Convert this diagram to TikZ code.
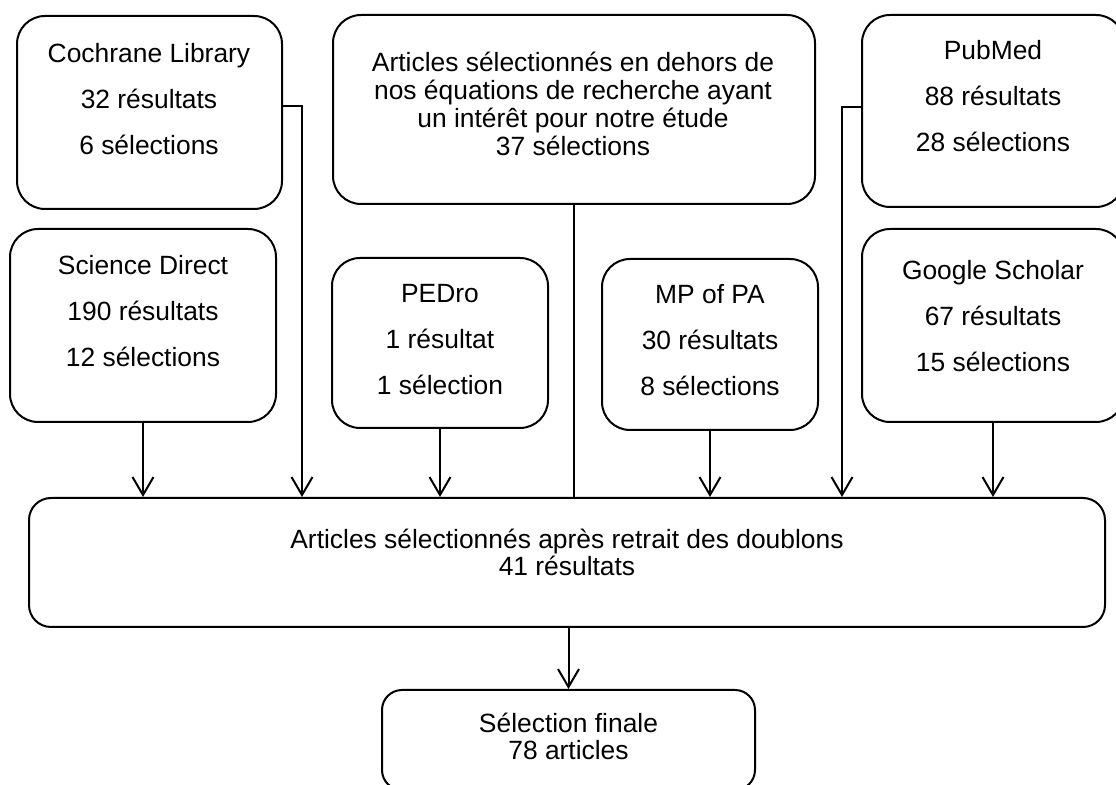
\documentclass[tikz,border=0pt]{standalone}
\usepackage{fontspec}
\setmainfont{Liberation Sans}
\usetikzlibrary{arrows.meta}
\begin{document}
\begin{tikzpicture}[x=0.5pt,y=-0.5pt,line width=1pt,
        box/.style={draw,rounded corners=14pt,inner sep=0pt},
        src/.style={font=\fontsize{13.2}{23}\selectfont,align=center,inner sep=0pt},
        txt/.style={font=\fontsize{13.2}{13.9}\selectfont,align=center,inner sep=0pt},
        arr/.style={-{Straight Barb[length=9pt,width=10.5pt]}}]
        \useasboundingbox (0,0) rectangle (1116,785);
        \clip (0,0) rectangle (1116,785);
        %% Boxes
        \node[box,minimum width=132.5pt,minimum height=96.5pt] (cochrane) at (149.5,112.5) {};
        \node[box,minimum width=241pt,minimum height=94.5pt] (extra) at (574,109.5) {};
        \node[box,minimum width=131pt,minimum height=96pt] (pubmed) at (993,111) {};
        \node[box,minimum width=133pt,minimum height=96.5pt] (sd) at (143,325.5) {};
        \node[box,minimum width=108pt,minimum height=85pt] (pedro) at (440,343) {};
        \node[box,minimum width=108pt,minimum height=85.5pt] (mppa) at (710,344.5) {};
        \node[box,minimum width=131pt,minimum height=96.5pt] (gs) at (993,325.5) {};
        \node[box,rounded corners=11pt,minimum width=538pt,minimum height=64.5pt] (big) at (567,562.5) {};
        \node[box,rounded corners=10pt,minimum width=186.5pt,minimum height=50pt] (final) at (568.5,740) {};
        %% Texts
        \node[src] (cochrane-t) at (149,99.5) {Cochrane Library\\32 résultats\\6 sélections};
        \node[txt] (extra-t) at (573,104) {Articles sélectionnés en dehors de\\nos équations de recherche ayant\\un intérêt pour notre étude\\37 sélections};
        \node[src] (pubmed-t) at (993,96.5) {PubMed\\88 résultats\\28 sélections};
        \node[src] (sd-t) at (143,311.5) {Science Direct\\190 résultats\\12 sélections};
        \node[src] (pedro-t) at (440,339.5) {PEDro\\1 résultat\\1 sélection};
        \node[src] (mppa-t) at (710,340.5) {MP of PA\\30 résultats\\8 sélections};
        \node[src] (gs-t) at (993,316.5) {Google Scholar\\67 résultats\\15 sélections};
        \node[txt] (big-t) at (567,552.5) {Articles sélectionnés après retrait des doublons\\41 résultats};
        \node[txt] (final-t) at (568.5,736.5) {Sélection finale\\78 articles};
        %% Connectors
        \coordinate (cl) at (302,106);
        \coordinate (pl) at (842,107);
        \draw[arr] (sd.south) -- (sd.south |- big.north);
        \draw[arr] (cl -| cochrane.east) -- (cl) -- (cl |- big.north);
        \draw[arr] (pedro.south) -- (pedro.south |- big.north);
        \draw (extra.south) -- (extra.south |- big.north);
        \draw[arr] (mppa.south) -- (mppa.south |- big.north);
        \draw[arr] (pl -| pubmed.west) -- (pl) -- (pl |- big.north);
        \draw[arr] (gs.south) -- (gs.south |- big.north);
        \draw[arr] (final.north |- big.south) -- (final.north);
\end{tikzpicture}
\end{document}
